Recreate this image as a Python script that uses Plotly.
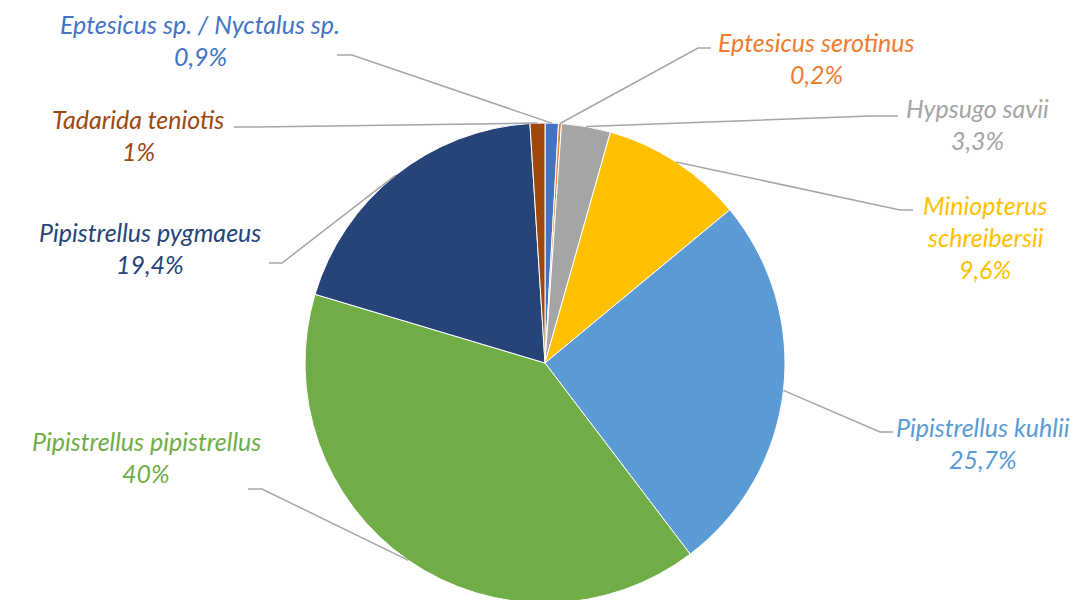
import math
import plotly.graph_objects as go

# Species in clockwise order starting at 12 o'clock
species = [
    "Eptesicus sp. / Nyctalus sp.",
    "Eptesicus serotinus",
    "Hypsugo savii",
    "Miniopterus\nschreibersii",
    "Pipistrellus kuhlii",
    "Pipistrellus pipistrellus",
    "Pipistrellus pygmaeus",
    "Tadarida teniotis",
]
shares = [0.9, 0.2, 3.3, 9.6, 25.7, 40, 19.4, 1]
share_labels = ["0,9%", "0,2%", "3,3%", "9,6%", "25,7%", "40%", "19,4%", "1%"]
colors = ["#4472C4", "#ED7D31", "#A5A5A5", "#FFC000",
          "#5B9BD5", "#70AD47", "#264478", "#9E480E"]

W, H = 1081, 600
OFF = 8  # page body margin: figure starts 8px in from the window corner
R = 240
CX, CY = 545, 363  # screen pixel centre of the pie

# label placement (screen px): text centre x, first line y, elbow point, line end at label
label_pos = [
    (200, 24, (352, 55), (337, 55)),
    (816, 42, (698, 48), (711, 48)),
    (977, 108, (870, 116), (898, 116)),
    (985, 205, (900, 210), (913, 210)),
    (983, 427, (880, 432), (893, 432)),
    (146, 441, (262, 489), (248, 489)),
    (150, 232, (282, 263), (269, 263)),
    (138, 119, (258, 127), (234, 127)),
]

FONT = "Lato"
SIZE = 25
LINE_GAP = 32


def px(x):
    return (x - OFF) / W


def py(y):
    return 1 - (y - OFF) / H


fig = go.Figure()
fig.add_trace(go.Pie(
    labels=[s.replace("\n", " ") for s in species],
    values=shares,
    sort=False,
    direction="clockwise",
    rotation=0,
    textinfo="none",
    hoverinfo="label+percent",
    marker=dict(colors=colors, line=dict(color="white", width=1)),
    domain=dict(x=[px(CX - R), px(CX + R)], y=[py(CY + R), py(CY - R)]),
    showlegend=False,
))

total = sum(shares)
cum = 0
annotations = []
shapes = []
for name, val, pct, col, (tx, ty, elbow, end) in zip(
        species, shares, share_labels, colors, label_pos):
    mid = (cum + val / 2) / total * 2 * math.pi
    cum += val
    ex = CX + R * math.sin(mid)
    ey = CY - R * math.cos(mid)
    shapes.append(dict(
        type="path", xref="paper", yref="paper",
        path=f"M {px(ex)} {py(ey)} L {px(elbow[0])} {py(elbow[1])} L {px(end[0])} {py(end[1])}",
        line=dict(color="#A6A6A6", width=1.5),
    ))
    lines = name.split("\n") + [pct]
    for i, txt in enumerate(lines):
        annotations.append(dict(
            x=px(tx), y=py(ty + i * LINE_GAP), xref="paper", yref="paper",
            text=f"<i>{txt}</i>", showarrow=False,
            xanchor="center", yanchor="middle",
            font=dict(family=FONT, size=SIZE, color=col),
        ))

fig.update_layout(
    width=W, height=H,
    margin=dict(l=0, r=0, t=0, b=0),
    paper_bgcolor="white",
    plot_bgcolor="white",
    annotations=annotations,
    shapes=shapes,
)

fig.write_html("out.html")
